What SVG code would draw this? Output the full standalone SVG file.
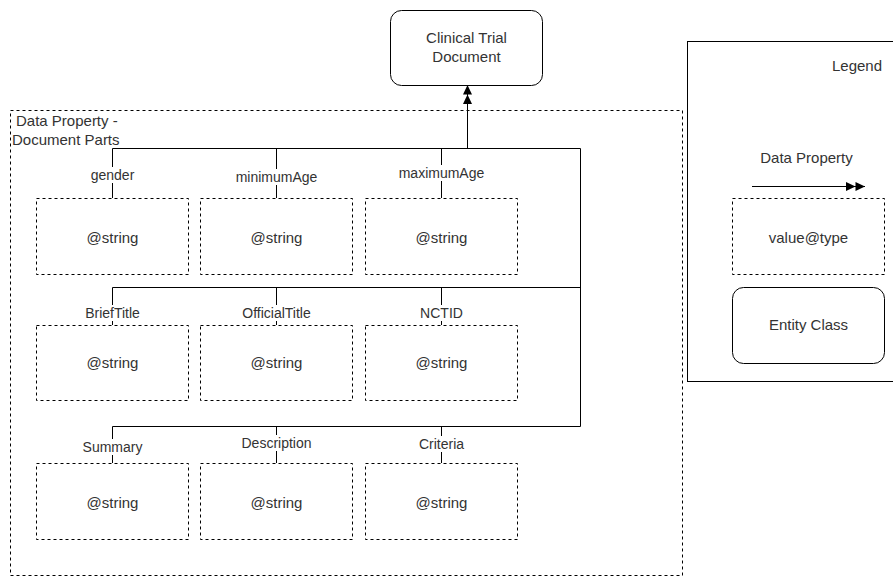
<svg xmlns="http://www.w3.org/2000/svg" width="893" height="577" viewBox="0 0 893 577">
  <style>
    text { font-family: "Liberation Sans", Arial, Helvetica, sans-serif; font-size: 15px; fill: #333333; }
    .mid { text-anchor: middle; }
    .elabel { font-size: 14px; }
    .value { fill: #ffffff; stroke: #000000; stroke-width: 1; stroke-dasharray: 3 3; }
    .entity { fill: #ffffff; stroke: #000000; stroke-width: 1; }
    .group { fill: none; stroke: #000000; stroke-width: 1; stroke-dasharray: 3 3; }
    .legend { fill: #ffffff; stroke: #000000; stroke-width: 1; }
    .edge { fill: none; stroke: #000000; stroke-width: 1; }
    .lbl-bg { fill: #ffffff; }
  </style>
  <defs>
    <marker id="doubleBlock" markerUnits="userSpaceOnUse" markerWidth="20" markerHeight="10" refX="19" refY="5" orient="auto">
      <path d="M0,0.5 L9.5,5 L0,9.5 Z M9.5,0.5 L19,5 L9.5,9.5 Z" fill="#000000"/>
    </marker>
  </defs>

  <rect width="893" height="577" fill="#ffffff"/>

  <!-- container for the document part properties -->
  <g id="document-parts">
    <rect class="group" x="10.5" y="110.5" width="672" height="465"/>
    <text x="16" y="125.5">Data Property -</text>
    <text x="12" y="144.5">Document Parts</text>
  </g>

  <!-- main entity -->
  <g id="clinical-trial-document">
    <rect class="entity" x="390.5" y="10.5" width="152" height="75" rx="11" ry="11"/>
    <text class="mid" x="466.5" y="43">Clinical Trial</text>
    <text class="mid" x="466.5" y="62">Document</text>
  </g>

  <!-- property connectors -->
  <g id="connectors">
    <!-- trunk up to the entity -->
    <line class="edge" x1="467.5" y1="148.5" x2="467.5" y2="85" marker-end="url(#doubleBlock)"/>
    <!-- right-hand spine -->
    <path class="edge" d="M580.5,148.5 L580.5,426.5"/>
    <!-- row buses -->
    <path class="edge" d="M112.5,198 L112.5,148.5 L580.5,148.5"/>
    <path class="edge" d="M276.5,198 L276.5,148.5"/>
    <path class="edge" d="M441.5,198 L441.5,148.5"/>
    <path class="edge" d="M112.5,325 L112.5,287.5 L580.5,287.5"/>
    <path class="edge" d="M276.5,325 L276.5,287.5"/>
    <path class="edge" d="M441.5,325 L441.5,287.5"/>
    <path class="edge" d="M112.5,463 L112.5,426.5 L580.5,426.5"/>
    <path class="edge" d="M276.5,463 L276.5,426.5"/>
    <path class="edge" d="M441.5,463 L441.5,426.5"/>
    <!-- edge labels -->
    <rect class="lbl-bg" x="88" y="167" width="49" height="16"/>
    <text class="mid elabel" x="112.5" y="180">gender</text>
    <rect class="lbl-bg" x="236" y="169" width="81" height="16"/>
    <text class="mid elabel" x="276.5" y="182">minimumAge</text>
    <rect class="lbl-bg" x="399" y="165" width="85" height="16"/>
    <text class="mid elabel" x="441.5" y="178">maximumAge</text>
    <rect class="lbl-bg" x="80" y="305" width="65" height="16"/>
    <text class="mid elabel" x="112.5" y="318">BriefTitle</text>
    <rect class="lbl-bg" x="238" y="305" width="77" height="16"/>
    <text class="mid elabel" x="276.5" y="318">OfficialTitle</text>
    <rect class="lbl-bg" x="418" y="305" width="47" height="16"/>
    <text class="mid elabel" x="441.5" y="318">NCTID</text>
    <rect class="lbl-bg" x="80" y="439" width="65" height="16"/>
    <text class="mid elabel" x="112.5" y="452">Summary</text>
    <rect class="lbl-bg" x="240" y="435" width="73" height="16"/>
    <text class="mid elabel" x="276.5" y="448">Description</text>
    <rect class="lbl-bg" x="414" y="436" width="55" height="16"/>
    <text class="mid elabel" x="441.5" y="449">Criteria</text>
  </g>

  <!-- row 1 values -->
  <g id="gender-value">
    <rect class="value" x="36.5" y="198.5" width="152" height="76"/>
    <text class="mid" x="112.5" y="242.5">@string</text>
  </g>
  <g id="minimumAge-value">
    <rect class="value" x="200.5" y="198.5" width="152" height="76"/>
    <text class="mid" x="276.5" y="242.5">@string</text>
  </g>
  <g id="maximumAge-value">
    <rect class="value" x="365.5" y="198.5" width="152" height="76"/>
    <text class="mid" x="441.5" y="242.5">@string</text>
  </g>

  <!-- row 2 values -->
  <g id="briefTitle-value">
    <rect class="value" x="36.5" y="325.5" width="152" height="75"/>
    <text class="mid" x="112.5" y="367.5">@string</text>
  </g>
  <g id="officialTitle-value">
    <rect class="value" x="200.5" y="325.5" width="152" height="75"/>
    <text class="mid" x="276.5" y="367.5">@string</text>
  </g>
  <g id="nctid-value">
    <rect class="value" x="365.5" y="325.5" width="152" height="75"/>
    <text class="mid" x="441.5" y="367.5">@string</text>
  </g>

  <!-- row 3 values -->
  <g id="summary-value">
    <rect class="value" x="36.5" y="463.5" width="152" height="76"/>
    <text class="mid" x="112.5" y="507.5">@string</text>
  </g>
  <g id="description-value">
    <rect class="value" x="200.5" y="463.5" width="152" height="76"/>
    <text class="mid" x="276.5" y="507.5">@string</text>
  </g>
  <g id="criteria-value">
    <rect class="value" x="365.5" y="463.5" width="152" height="76"/>
    <text class="mid" x="441.5" y="507.5">@string</text>
  </g>

  <!-- legend -->
  <g id="legend">
    <rect class="legend" x="687.5" y="41.5" width="220" height="340"/>
    <text x="832" y="70.5">Legend</text>
    <text class="mid" x="806.5" y="163">Data Property</text>
    <line class="edge" x1="752" y1="186.5" x2="865" y2="186.5" marker-end="url(#doubleBlock)"/>
    <rect class="value" x="732.5" y="198.5" width="152" height="76"/>
    <text class="mid" x="808.5" y="242.5">value@type</text>
    <rect class="entity" x="732.5" y="287.5" width="152" height="76" rx="11" ry="11"/>
    <text class="mid" x="808.5" y="329.5">Entity Class</text>
  </g>
</svg>
